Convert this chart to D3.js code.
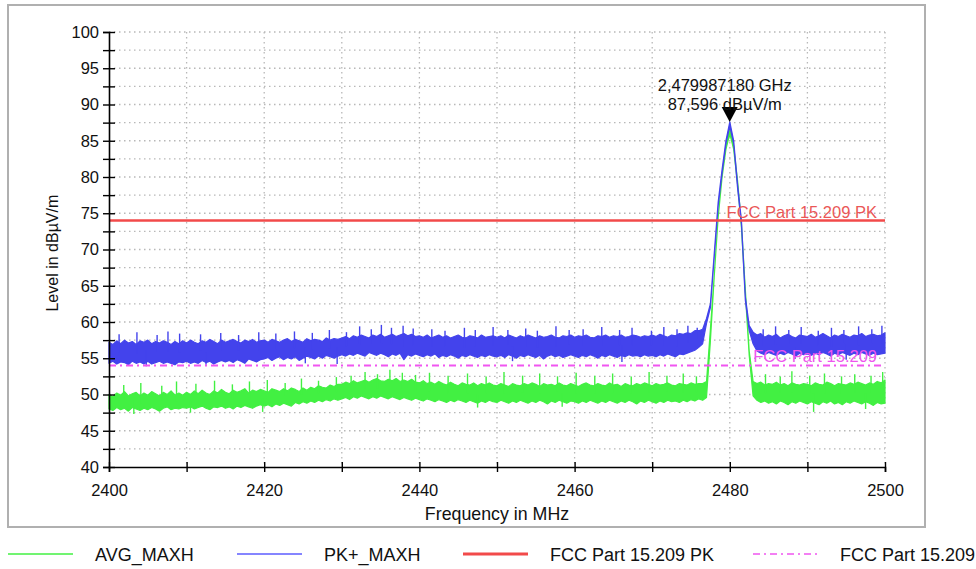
<!DOCTYPE html>
<html>
<head>
<meta charset="utf-8">
<script src="https://d3js.org/d3.v7.min.js"></script>
<style>
  body { margin: 0; background: #fff; }
  svg { font-family: "Liberation Sans", Arial, sans-serif; }
</style>
</head>
<body>
<script>
// sweep: 2400..2500 MHz, one reading every 0.5 MHz (201 points)
const freqStart = 2400;
const freqStep = 0.5;

// PK+_MAXH trace, upper / lower edge of the noise band (dBuV/m)
const pkHigh = [
  57.2, 56.9, 57.4, 57.0, 57.5, 57.1, 57.3, 56.9, 57.4, 57.2, 57.5, 57.0, 57.3, 57.1, 57.4, 57.2, 56.9, 57.3, 57.0, 57.4,
  57.1, 57.5, 57.2, 57.0, 57.4, 57.2, 57.6, 57.3, 57.0, 57.5, 57.2, 57.4, 57.6, 57.3, 57.1, 57.5, 57.3, 57.6, 57.2, 57.4,
  57.5, 57.2, 57.6, 57.4, 57.2, 57.5, 57.7, 57.3, 57.6, 57.4, 57.2, 57.7, 57.4, 57.6, 57.5, 57.3, 57.8, 57.5, 57.7, 57.6,
  57.8, 58.0, 57.7, 58.1, 57.9, 58.2, 58.0, 57.8, 58.2, 58.0, 58.3, 57.9, 58.1, 58.3, 58.0, 58.2, 58.4, 58.1, 58.3, 58.0,
  58.1, 57.9, 58.2, 57.8, 58.0, 58.2, 57.9, 58.1, 57.8, 58.0, 58.2, 57.9, 57.8, 58.1, 58.0, 57.8, 58.2, 57.9, 58.0, 58.1,
  57.9, 58.1, 57.8, 58.2, 58.0, 57.8, 58.1, 57.9, 58.2, 58.0, 57.8, 58.1, 57.9, 58.0, 58.2, 57.9, 57.8, 58.1, 58.0, 58.2,
  57.9, 58.1, 58.0, 58.2, 57.9, 57.8, 58.1, 58.0, 58.2, 57.9, 58.1, 58.0, 58.2, 57.9, 58.0, 58.2, 58.1, 57.9, 58.1, 58.0,
  58.2, 58.0, 58.3, 58.1, 57.9, 58.2, 58.1, 58.4, 58.3, 58.5, 58.4, 58.8, 58.8, 59.0, 60.5, 62.5, 69.5, 76.5, 81.0, 85.0,
  87.6, 85.0, 79.0, 74.0, 63.5, 59.5, 58.6, 58.2, 58.4, 57.9, 58.2, 58.0, 58.3, 57.8, 58.1, 58.3, 58.0, 57.8, 58.2, 58.1,
  58.0, 58.3, 57.9, 58.1, 58.4, 58.1, 57.8, 58.2, 58.0, 58.3, 58.1, 57.9, 58.2, 58.1, 58.4, 58.0, 58.2, 58.3, 58.1, 58.2,
  58.5
];
const pkLow = [
  54.3, 54.6, 54.2, 54.5, 54.4, 54.1, 54.6, 54.3, 54.5, 54.2, 54.6, 54.2, 54.4, 54.6, 54.3, 54.5, 54.3, 54.1, 54.5, 54.4,
  54.6, 54.3, 54.5, 54.3, 54.7, 54.4, 54.6, 54.2, 54.5, 54.7, 54.5, 54.7, 54.4, 54.8, 54.6, 54.3, 54.9, 54.7, 54.5, 54.8,
  54.9, 55.1, 54.7, 55.0, 55.2, 54.8, 55.1, 54.9, 55.2, 54.7, 55.0, 55.3, 55.1, 54.9, 55.3, 55.0, 55.4, 55.2, 55.0, 55.3,
  55.5, 55.3, 55.6, 55.4, 55.7, 55.5, 55.3, 55.8, 55.6, 55.4, 55.7, 55.5, 55.2, 55.6, 55.4, 55.7, 54.8, 55.5, 55.3, 55.6,
  55.4, 55.2, 55.5, 55.3, 55.6, 55.1, 55.4, 55.2, 55.5, 55.3, 55.0, 55.4, 55.2, 55.5, 55.3, 55.1, 55.4, 55.2, 55.5, 55.3,
  55.2, 55.4, 55.1, 55.5, 55.3, 55.0, 55.4, 55.2, 55.5, 55.3, 55.1, 55.4, 54.9, 55.3, 55.5, 55.2, 55.4, 55.1, 55.3, 55.5,
  55.3, 55.1, 55.4, 55.2, 55.5, 55.3, 55.0, 55.4, 55.2, 55.5, 55.3, 55.1, 55.4, 55.2, 55.5, 55.3, 55.4, 55.2, 55.5, 55.3,
  55.4, 55.2, 55.5, 55.3, 55.6, 55.4, 55.2, 55.6, 55.5, 55.7, 55.9, 56.1, 56.5, 57.0, 59.8, 62.0, 69.0, 76.0, 80.5, 84.6,
  87.0, 84.6, 78.5, 73.5, 63.0, 58.8, 57.0, 56.0, 55.7, 55.5, 55.8, 55.6, 55.4, 55.7, 55.5, 55.8, 55.6, 55.3, 55.7, 55.5,
  55.6, 55.4, 55.7, 55.5, 55.8, 55.6, 55.3, 55.7, 55.5, 55.8, 55.6, 55.4, 55.7, 55.5, 55.8, 55.6, 55.4, 55.7, 55.5, 55.6,
  55.7
];
// single-sample peaks and dips of the PK+ trace: [MHz, dBuV/m]
const pkSpikes = [
  [2401.3, 58.3], [2403.6, 58.6], [2406.2, 58.2], [2407.6, 58.7], [2409.1, 58.4], [2411.8, 58.3], [2414.4, 58.5],
  [2416.7, 58.2], [2419.3, 58.6], [2421.5, 58.4], [2423.9, 58.7], [2426.2, 58.5], [2428.4, 58.9], [2430.6, 58.6],
  [2432.3, 59.4], [2433.8, 59.0], [2435.1, 59.6], [2436.4, 59.2], [2437.9, 59.5], [2439.2, 59.1], [2441.6, 59.0],
  [2443.3, 58.8], [2445.8, 59.2], [2447.2, 58.9], [2449.5, 59.3], [2451.4, 58.9], [2453.7, 59.1], [2455.2, 58.8],
  [2457.6, 59.4], [2459.3, 58.9], [2461.1, 59.0], [2463.5, 59.3], [2465.8, 58.9], [2467.4, 59.2], [2469.9, 58.8],
  [2471.5, 59.3], [2473.2, 59.0], [2474.6, 59.5], [2475.8, 59.2], [2484.3, 59.0], [2485.9, 59.4], [2487.6, 58.9],
  [2489.2, 59.3], [2491.4, 58.8], [2493.1, 59.2], [2494.7, 58.9], [2496.6, 59.4], [2498.3, 59.0], [2499.6, 59.5],
  [2404.8, 53.9], [2412.5, 54.1], [2425.3, 54.3], [2429.4, 54.2], [2452.0, 54.6], [2466.1, 54.5], [2488.4, 54.9],
  [2495.0, 54.8]
];

// AVG_MAXH trace, upper / lower edge of the noise band (dBuV/m)
const avgHigh = [
  50.0, 49.7, 50.2, 49.9, 50.4, 49.8, 50.1, 50.3, 49.8, 50.2, 49.9, 50.4, 50.1, 49.8, 50.3, 50.0, 50.5, 49.9, 50.2, 49.9,
  50.3, 50.0, 50.5, 50.1, 50.6, 50.2, 50.0, 50.5, 50.2, 50.7, 50.3, 50.1, 50.6, 50.3, 50.5, 50.8, 50.2, 50.6, 50.4, 50.7,
  50.5, 50.3, 50.8, 50.6, 50.4, 50.8, 50.5, 50.9, 50.7, 50.4, 50.9, 50.6, 51.0, 50.8, 51.2, 51.0, 50.9, 51.3, 51.1, 51.4,
  51.4, 51.7, 51.5, 51.9, 51.6, 51.8, 52.0, 51.7, 52.0, 52.2, 51.9, 51.8, 52.1, 51.9, 52.2, 51.8, 52.0, 51.8, 52.1, 51.7,
  51.6, 51.9, 51.5, 51.7, 51.4, 51.8, 51.5, 51.3, 51.7, 51.4, 51.2, 51.6, 51.4, 51.3, 51.6, 51.2, 51.5, 51.3, 51.6, 51.3,
  51.2, 51.5, 51.3, 51.1, 51.5, 51.3, 51.2, 51.5, 51.3, 51.6, 51.4, 51.1, 51.5, 51.3, 51.4, 51.2, 51.6, 51.3, 51.2, 51.5,
  51.3, 51.1, 51.4, 51.6, 51.3, 51.2, 51.5, 51.3, 51.2, 51.6, 51.3, 51.4, 51.1, 51.5, 51.3, 51.2, 51.5, 51.3, 51.6, 51.4,
  51.2, 51.5, 51.3, 51.4, 51.6, 51.3, 51.2, 51.5, 51.4, 51.3, 51.6, 51.4, 51.5, 51.5, 51.8, 59.0, 66.5, 74.5, 80.0, 84.2,
  86.6, 84.2, 79.5, 73.5, 64.5, 56.0, 51.8, 51.5, 51.7, 51.3, 51.5, 51.4, 51.7, 51.3, 51.5, 51.2, 51.6, 51.4, 51.3, 51.5,
  51.4, 51.2, 51.6, 51.4, 51.3, 51.7, 51.5, 51.2, 51.5, 51.4, 51.3, 51.6, 51.4, 51.7, 51.5, 51.3, 51.6, 51.4, 51.8, 51.6,
  52.0
];
const avgLow = [
  48.0, 47.8, 48.2, 47.9, 48.1, 47.7, 48.2, 48.0, 47.8, 48.1, 47.9, 48.2, 48.0, 47.7, 48.1, 48.3, 47.9, 48.1, 48.0, 48.2,
  48.1, 48.3, 48.0, 48.2, 48.4, 48.1, 47.9, 48.3, 48.2, 48.4, 48.1, 48.3, 48.0, 48.4, 48.2, 48.5, 48.3, 48.1, 48.4, 48.6,
  48.4, 48.6, 48.3, 48.7, 48.5, 48.8, 48.6, 48.4, 48.9, 48.7, 49.0, 48.8, 49.1, 48.9, 49.2, 49.0, 49.3, 49.1, 49.4, 49.2,
  49.4, 49.6, 49.3, 49.7, 49.5, 49.8, 49.6, 49.4, 49.7, 49.5, 49.8, 49.6, 49.4, 49.7, 49.5, 49.3, 49.6, 49.4, 49.2, 49.5,
  49.3, 49.1, 49.4, 49.2, 49.0, 49.3, 49.1, 48.9, 49.2, 49.0, 49.3, 49.1, 48.9, 49.2, 49.0, 48.8, 49.1, 48.9, 49.2, 49.0,
  48.9, 49.2, 49.0, 48.8, 49.1, 48.9, 49.2, 49.0, 48.8, 49.1, 48.9, 49.2, 49.0, 48.7, 49.1, 48.9, 49.2, 49.0, 48.8, 49.1,
  49.0, 48.8, 49.1, 48.9, 49.2, 49.0, 48.8, 49.1, 48.9, 49.2, 49.0, 48.8, 49.1, 48.9, 49.2, 49.0, 48.7, 49.1, 48.9, 49.2,
  49.0, 48.8, 49.1, 48.9, 49.2, 49.0, 49.1, 48.9, 49.2, 49.0, 49.3, 49.1, 49.4, 49.2, 49.6, 57.4, 66.4, 74.4, 79.9, 83.8,
  86.0, 83.8, 79.0, 73.0, 64.0, 55.4, 49.8, 49.2, 48.9, 49.1, 48.8, 49.0, 48.7, 49.1, 48.9, 48.6, 49.0, 48.8, 49.1, 48.9,
  48.7, 49.0, 48.8, 48.6, 49.0, 48.8, 49.1, 48.7, 48.9, 48.6, 49.0, 48.8, 49.1, 48.9, 48.7, 49.0, 48.8, 48.5, 48.9, 48.7,
  48.8
];
// single-sample peaks and dips of the AVG trace: [MHz, dBuV/m]
const avgSpikes = [
  [2401.9, 51.3], [2404.1, 51.6], [2406.8, 51.2], [2408.7, 51.8], [2411.2, 51.5], [2413.6, 51.9], [2415.9, 51.4],
  [2418.1, 51.8], [2420.4, 52.0], [2422.7, 51.6], [2424.8, 52.2], [2427.0, 51.9], [2429.3, 52.4], [2431.2, 52.6],
  [2433.0, 53.1], [2434.6, 52.8], [2436.2, 53.4], [2437.8, 53.0], [2439.5, 52.7], [2441.3, 53.0], [2443.7, 52.6],
  [2446.2, 52.9], [2448.6, 52.5], [2450.9, 53.1], [2453.3, 52.6], [2455.5, 52.9], [2457.8, 52.5], [2460.2, 53.0],
  [2462.6, 52.6], [2464.9, 52.9], [2467.3, 52.5], [2469.6, 53.1], [2471.9, 52.6], [2474.0, 52.9], [2475.7, 52.5],
  [2484.6, 52.8], [2486.5, 52.5], [2488.0, 53.2], [2490.3, 52.6], [2492.2, 52.9], [2494.4, 52.5], [2496.1, 52.8],
  [2498.2, 52.6], [2499.7, 53.1],
  [2403.2, 47.3], [2410.5, 47.5], [2419.8, 47.6], [2447.5, 48.2], [2458.4, 48.3], [2490.8, 47.6], [2497.5, 48.0]
];

// limit lines
const limitPk = 74;
const limitAvg = 54;

// marker
const markerFreq = 2479.987180;
const markerLevel = 87.596;
const markerLines = ["2,479987180 GHz", "87,596 dBµV/m"];

// axes
const xDomain = [2400, 2500];
const yDomain = [40, 100];
const xTicks = [2400, 2410, 2420, 2430, 2440, 2450, 2460, 2470, 2480, 2490, 2500];
const xTickLabels = [2400, 2420, 2440, 2460, 2480, 2500];
const yTicks = [40, 42.5, 45, 47.5, 50, 52.5, 55, 57.5, 60, 62.5, 65, 67.5, 70, 72.5, 75, 77.5, 80, 82.5, 85, 87.5, 90, 92.5, 95, 97.5, 100];
const yTickLabels = [40, 45, 50, 55, 60, 65, 70, 75, 80, 85, 90, 95, 100];

const legendNames = ["AVG_MAXH", "PK+_MAXH", "FCC Part 15.209 PK", "FCC Part 15.209"];

const colors = {
  avg: "#42f042",
  pk: "#4343ec",
  pkLegend: "#5c5cff",
  limitPk: "#f24a4a",
  limitAvg: "#f055f0",
  grid: "#b8b8b8"
};

main();

function main() {
  setupCanvasSize();
  appendSvg("body");
  setupScales();
  appendFrame();
  appendGrid();
  appendTraces();
  appendLimits();
  appendXAxis();
  appendYAxis();
  appendMarker();
  appendLegend();
}

function setupCanvasSize() {
  margin = { top: 32, left: 109, bottom: 102, right: 91 };
  width = 976 - margin.left - margin.right;
  height = 569 - margin.top - margin.bottom;
}

function appendSvg(domElement) {
  root = d3.select(domElement).append("svg")
    .attr("width", 976)
    .attr("height", 569);
  svg = root.append("g")
    .attr("transform", `translate(${margin.left}, ${margin.top})`);
}

function setupScales() {
  x = d3.scaleLinear().domain(xDomain).range([0, width]);
  y = d3.scaleLinear().domain(yDomain).range([height, 0]);
}

// grey box round the plot
function appendFrame() {
  root.append("rect")
    .attr("x", 8)
    .attr("y", 5)
    .attr("width", 917)
    .attr("height", 522)
    .attr("fill", "none")
    .attr("stroke", "#b0b0b0")
    .attr("stroke-width", 2);
}

function appendGrid() {
  const grid = svg.append("g").attr("class", "grid")
    .attr("stroke", colors.grid)
    .attr("stroke-width", 1.3)
    .attr("stroke-dasharray", "1.5,3.5");

  grid.selectAll(".hline")
    .data(yTicks.filter(d => d > yDomain[0]))
    .enter().append("line")
    .attr("x1", 0).attr("x2", width)
    .attr("y1", d => y(d)).attr("y2", d => y(d));

  grid.selectAll(".vline")
    .data(xTicks.filter(d => d > xDomain[0]))
    .enter().append("line")
    .attr("y1", 0).attr("y2", height)
    .attr("x1", d => x(d)).attr("x2", d => x(d));
}

function traceRows(high, low) {
  return high.map((h, i) => ({ f: freqStart + i * freqStep, hi: h, lo: low[i] }));
}

// draw one trace: filled noise band plus its narrow spikes
function appendTrace(high, low, spikes, color) {
  const band = d3.area()
    .x(d => x(d.f))
    .y0(d => y(d.lo))
    .y1(d => y(d.hi));

  svg.append("path")
    .datum(traceRows(high, low))
    .attr("d", band)
    .attr("fill", color)
    .attr("stroke", color)
    .attr("stroke-width", 1.2)
    .attr("stroke-linejoin", "round");

  // spike starts from the middle of the band at the nearest sample
  const mid = f => {
    const i = Math.round((f - freqStart) / freqStep);
    return (high[i] + low[i]) / 2;
  };
  svg.append("g")
    .selectAll("line")
    .data(spikes)
    .enter().append("line")
    .attr("x1", d => x(d[0])).attr("x2", d => x(d[0]))
    .attr("y1", d => y(mid(d[0]))).attr("y2", d => y(d[1]))
    .attr("stroke", color)
    .attr("stroke-width", 1.4);
}

function appendTraces() {
  appendTrace(avgHigh, avgLow, avgSpikes, colors.avg);
  appendTrace(pkHigh, pkLow, pkSpikes, colors.pk);
}

function appendLimits() {
  svg.append("line")
    .attr("x1", 0).attr("x2", width)
    .attr("y1", y(limitAvg)).attr("y2", y(limitAvg))
    .attr("stroke", colors.limitAvg)
    .attr("stroke-width", 1.8)
    .attr("stroke-dasharray", "7,4,2,4");

  svg.append("line")
    .attr("x1", 0).attr("x2", width)
    .attr("y1", y(limitPk)).attr("y2", y(limitPk))
    .attr("stroke", colors.limitPk)
    .attr("stroke-width", 2.6);

  svg.append("text")
    .attr("x", width - 8)
    .attr("y", y(limitPk) - 3)
    .attr("text-anchor", "end")
    .attr("fill", "#ea5757")
    .style("font-size", "16.5px")
    .text(legendNames[2]);

  svg.append("text")
    .attr("x", width - 8)
    .attr("y", y(limitAvg) - 4)
    .attr("text-anchor", "end")
    .attr("fill", "#ee55ee")
    .style("font-size", "16.5px")
    .text(legendNames[3]);
}

function appendXAxis() {
  const axis = d3.axisBottom(x)
    .tickValues(xTicks)
    .tickSize(5)
    .tickPadding(12)
    .tickFormat(d => xTickLabels.includes(d) ? d : "");

  const g = svg.append("g")
    .attr("transform", `translate(0, ${height})`)
    .call(axis);
  g.select(".domain").attr("stroke-width", 1.6);
  g.selectAll(".tick line").attr("y1", -5).attr("stroke-width", 1.4);
  g.selectAll("text")
    .attr("fill", "#111")
    .style("font-size", "16.5px")
    .style("font-family", "Liberation Sans, Arial, sans-serif");

  svg.append("text")
    .attr("x", width / 2)
    .attr("y", height + 53)
    .attr("text-anchor", "middle")
    .attr("fill", "#111")
    .style("font-size", "17.8px")
    .text("Frequency in MHz");
}

function appendYAxis() {
  const axis = d3.axisLeft(y)
    .tickValues(yTicks)
    .tickSize(6)
    .tickPadding(4)
    .tickFormat(d => yTickLabels.includes(d) ? d : "");

  const g = svg.append("g").call(axis);
  g.select(".domain").attr("stroke-width", 1.6);
  g.selectAll(".tick line").attr("x1", 6).attr("stroke-width", 1.4);
  g.selectAll("text")
    .attr("fill", "#111")
    .style("font-size", "16.5px")
    .style("font-family", "Liberation Sans, Arial, sans-serif");

  svg.append("text")
    .attr("transform", `translate(-51, ${y(69.5)}) rotate(-90)`)
    .attr("text-anchor", "middle")
    .attr("fill", "#111")
    .style("font-size", "16px")
    .text("Level in dBµV/m");
}

// peak marker: downward triangle with its tip on the peak
function appendMarker() {
  const mx = x(markerFreq);
  const my = y(markerLevel);
  const p = d3.path();
  p.moveTo(mx, my);
  p.lineTo(mx - 8, my - 15);
  p.lineTo(mx + 8, my - 15);
  p.closePath();
  svg.append("path")
    .attr("d", p.toString())
    .attr("fill", "#000");

  svg.selectAll(".marker-label")
    .data(markerLines)
    .enter().append("text")
    .attr("class", "marker-label")
    .attr("x", mx - 5)
    .attr("y", (d, i) => my - 31 + i * 19)
    .attr("text-anchor", "middle")
    .attr("fill", "#111")
    .style("font-size", "16.5px")
    .text(d => d);
}

function appendLegend() {
  const items = [
    { name: legendNames[0], color: colors.avg, width: 1.5, dash: null, x0: 8 },
    { name: legendNames[1], color: colors.pkLegend, width: 1.5, dash: null, x0: 237 },
    { name: legendNames[2], color: colors.limitPk, width: 3, dash: null, x0: 463 },
    { name: legendNames[3], color: colors.limitAvg, width: 1.5, dash: "7,4,2,4", x0: 753 }
  ];
  const legend = root.append("g").attr("class", "legend");
  const entry = legend.selectAll("g")
    .data(items)
    .enter().append("g")
    .attr("transform", d => `translate(${d.x0}, 554)`);

  entry.append("line")
    .attr("x1", 0).attr("x2", 65)
    .attr("stroke", d => d.color)
    .attr("stroke-width", d => d.width)
    .attr("stroke-dasharray", d => d.dash);

  entry.append("text")
    .attr("x", 87)
    .attr("y", 7)
    .attr("fill", "#111")
    .style("font-size", "18px")
    .text(d => d.name);
}
</script>
</body>
</html>
